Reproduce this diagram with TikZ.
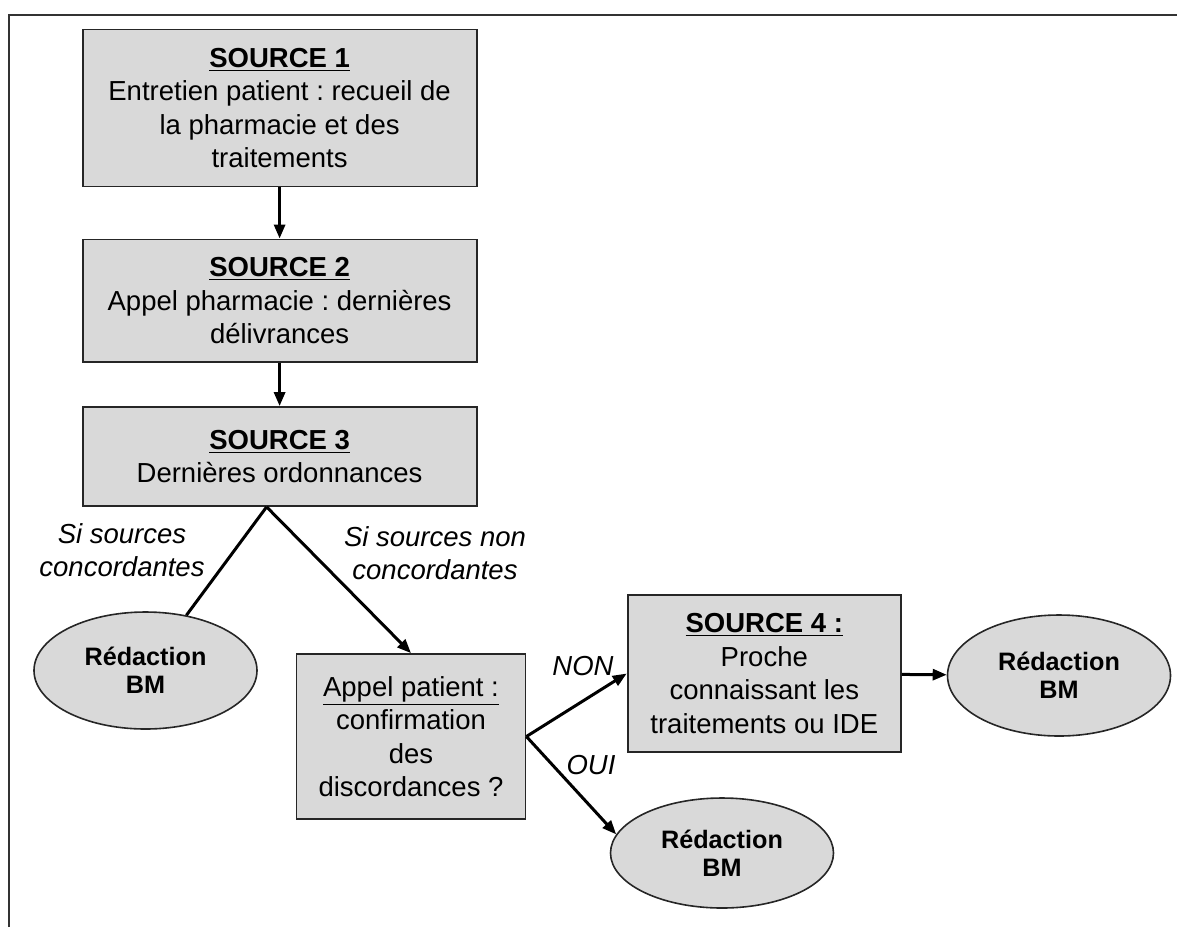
\documentclass[tikz,border=0pt]{standalone}
\usepackage{fontspec}
\setmainfont{Liberation Sans}
\usetikzlibrary{arrows.meta,shapes.geometric}
\frenchspacing

\begin{document}
\begin{tikzpicture}[x=0.5pt,y=-0.5pt,
    box/.style={draw=black!85,line width=0.9pt,fill=black!15,align=center,inner sep=0pt,
      font=\fontsize{13.75}{16.75}\selectfont},
    redac/.style={ellipse,draw=black!85,line width=0.8pt,fill=black!15,align=center,inner sep=0pt,
      minimum width=111.5pt,font=\fontsize{12.6}{13.8}\selectfont\bfseries},
    lien/.style={line width=1.5pt},
    fleche/.style={lien,-{Triangle[length=7pt,width=5.5pt]}},
    etiq/.style={align=center,font=\fontsize{13.75}{16.75}\selectfont\itshape}]
      \useasboundingbox (0,0) rectangle (1177,927);
      \draw[line width=1.3pt,black!80] (9,927) -- (9,15) -- (1177,15);
      \node[box,minimum width=197pt,minimum height=78.5pt] (S1) at (279.6,108)
        {\textbf{\underline{SOURCE 1}}\\Entretien patient : recueil de\\la pharmacie et des\\traitements};
      \node[box,minimum width=197pt,minimum height=61.25pt] (S2) at (279.6,300.7)
        {\textbf{\underline{SOURCE 2}}\\Appel pharmacie : dernières\\délivrances};
      \node[box,minimum width=197pt,minimum height=49.5pt] (S3) at (279.6,456.5)
        {\textbf{\underline{SOURCE 3}}\\Dernières ordonnances};
      \node[box,minimum width=114.5pt,minimum height=82.5pt] (AP) at (411,736.5)
        {\underline{Appel patient :}\\confirmation\\des\\discordances ?};
      \node[box,minimum width=136.7pt,minimum height=78.5pt] (S4) at (764.3,673.5)
        {\textbf{\underline{SOURCE 4 :}}\\Proche\\connaissant les\\traitements ou IDE};
      \node[redac,minimum height=58.5pt] (R1) at (145.5,670.5) {Rédaction\\BM};
      \node[redac,minimum height=60.5pt] (R2) at (1059,675.5) {Rédaction\\BM};
      \node[redac,minimum height=55pt] (R3) at (722,853) {Rédaction\\BM};
      \coordinate (F1) at ([xshift=-6.5pt]S3.south);
      \draw[fleche] (S1) -- (S2);
      \draw[fleche] (S2) -- (S3);
      \draw[lien] (F1) -- (R1);
      \draw[fleche] (F1) -- (AP.north);
      \draw[fleche] (AP.east) -- (S4.west);
      \draw[fleche] (AP.east) -- (R3.170);
      \draw[fleche] (S4) -- (R2);
      \node[etiq] (L1) at (122,550) {Si sources\\concordantes};
      \node[etiq] (L2) at (435,553) {Si sources non\\concordantes};
      \node[etiq] (NON) at (583,666) {NON};
      \node[etiq] (OUI) at (591,765) {OUI};
\end{tikzpicture}
\end{document}
